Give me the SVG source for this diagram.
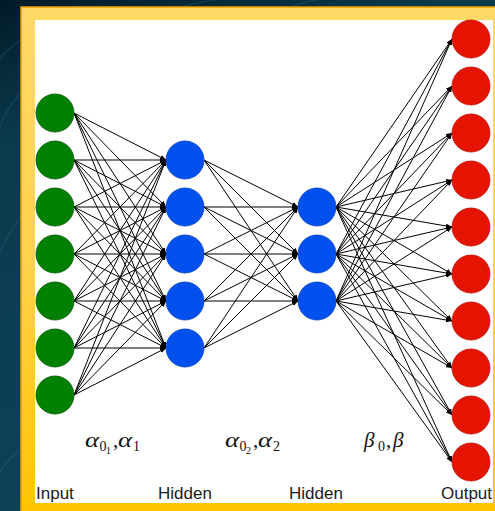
<svg xmlns="http://www.w3.org/2000/svg" width="495" height="511" viewBox="0 0 495 511">
  <defs>
    <linearGradient id="bg" x1="0" y1="0" x2="0.3" y2="1">
      <stop offset="0" stop-color="#021a28"/>
      <stop offset="0.25" stop-color="#0a3a4c"/>
      <stop offset="1" stop-color="#0c4458"/>
    </linearGradient>
    <linearGradient id="frame" x1="0" y1="0" x2="0" y2="1">
      <stop offset="0" stop-color="#ffd966"/>
      <stop offset="0.5" stop-color="#ffd24a"/>
      <stop offset="1" stop-color="#ffc400"/>
    </linearGradient>
    <marker id="arrow" markerWidth="6" markerHeight="5" refX="6" refY="2.5" orient="auto" markerUnits="userSpaceOnUse">
      <path d="M0,0 L6,2.5 L0,5 z" fill="#000"/>
    </marker>
    <style>
      .edge { stroke: #000; stroke-width: 1; fill: none; marker-end: url(#arrow); }
      .in { fill: #008000; stroke: #005700; stroke-width: 0.8; }
      .hid { fill: #0050ef; stroke: #003fc0; stroke-width: 0.8; }
      .out { fill: #e51400; stroke: #c01000; stroke-width: 0.8; }
      .cap { font-family: "Liberation Sans", Arial, sans-serif; font-size: 17px; fill: #1a1a1a; }
      .math { font-family: "Liberation Serif", "Times New Roman", serif; font-size: 21px; fill: #111; }
      .gr { font-style: italic; }
      .sub { font-size: 14px; }
      .subsub { font-size: 10px; }
      .arc { fill: none; stroke: #2a6c80; stroke-opacity: 0.35; stroke-width: 1.2; }
    </style>
  </defs>

  <!-- backdrop -->
  <rect x="0" y="0" width="495" height="511" fill="url(#bg)"/>
  <path class="arc" d="M-10,70 Q20,30 70,18"/>
  <path class="arc" d="M-5,140 Q8,100 30,85"/>
  <path class="arc" d="M-5,260 Q10,230 22,215"/>
  <path class="arc" d="M-5,480 Q10,455 22,448"/>
  <path class="arc" d="M180,7 Q230,-6 260,0"/>
  <path class="arc" d="M290,7 Q320,-4 340,0"/>

  <!-- frame and panel -->
  <rect x="21" y="7" width="480" height="510" fill="url(#frame)"/>
  <rect x="21" y="7" width="480" height="510" fill="none" stroke="#f0a000" stroke-width="1.5"/>
  <rect x="35" y="20" width="458" height="483" fill="#ffffff"/>

  <!-- connectors -->
  <g id="connectors">
    <!-- input -> hidden 1 -->
    <path class="edge" d="M74,113 L166,160"/><path class="edge" d="M74,113 L166,207"/><path class="edge" d="M74,113 L166,254"/><path class="edge" d="M74,113 L166,301"/><path class="edge" d="M74,113 L166,348"/>
    <path class="edge" d="M74,160 L166,160"/><path class="edge" d="M74,160 L166,207"/><path class="edge" d="M74,160 L166,254"/><path class="edge" d="M74,160 L166,301"/><path class="edge" d="M74,160 L166,348"/>
    <path class="edge" d="M74,207 L166,160"/><path class="edge" d="M74,207 L166,207"/><path class="edge" d="M74,207 L166,254"/><path class="edge" d="M74,207 L166,301"/><path class="edge" d="M74,207 L166,348"/>
    <path class="edge" d="M74,254 L166,160"/><path class="edge" d="M74,254 L166,207"/><path class="edge" d="M74,254 L166,254"/><path class="edge" d="M74,254 L166,301"/><path class="edge" d="M74,254 L166,348"/>
    <path class="edge" d="M74,301 L166,160"/><path class="edge" d="M74,301 L166,207"/><path class="edge" d="M74,301 L166,254"/><path class="edge" d="M74,301 L166,301"/><path class="edge" d="M74,301 L166,348"/>
    <path class="edge" d="M74,348 L166,160"/><path class="edge" d="M74,348 L166,207"/><path class="edge" d="M74,348 L166,254"/><path class="edge" d="M74,348 L166,301"/><path class="edge" d="M74,348 L166,348"/>
    <path class="edge" d="M74,395 L166,160"/><path class="edge" d="M74,395 L166,207"/><path class="edge" d="M74,395 L166,254"/><path class="edge" d="M74,395 L166,301"/><path class="edge" d="M74,395 L166,348"/>
    <!-- hidden 1 -> hidden 2 -->
    <path class="edge" d="M204,160 L298,207"/><path class="edge" d="M204,160 L298,254"/><path class="edge" d="M204,160 L298,301"/>
    <path class="edge" d="M204,207 L298,207"/><path class="edge" d="M204,207 L298,254"/><path class="edge" d="M204,207 L298,301"/>
    <path class="edge" d="M204,254 L298,207"/><path class="edge" d="M204,254 L298,254"/><path class="edge" d="M204,254 L298,301"/>
    <path class="edge" d="M204,301 L298,207"/><path class="edge" d="M204,301 L298,254"/><path class="edge" d="M204,301 L298,301"/>
    <path class="edge" d="M204,348 L298,207"/><path class="edge" d="M204,348 L298,254"/><path class="edge" d="M204,348 L298,301"/>
    <!-- hidden 2 -> output -->
    <path class="edge" d="M336,207 L452,39"/><path class="edge" d="M336,207 L452,86"/><path class="edge" d="M336,207 L452,133"/><path class="edge" d="M336,207 L452,180"/><path class="edge" d="M336,207 L452,227"/>
    <path class="edge" d="M336,207 L452,274"/><path class="edge" d="M336,207 L452,321"/><path class="edge" d="M336,207 L452,368"/><path class="edge" d="M336,207 L452,415"/><path class="edge" d="M336,207 L452,462"/>
    <path class="edge" d="M336,254 L452,39"/><path class="edge" d="M336,254 L452,86"/><path class="edge" d="M336,254 L452,133"/><path class="edge" d="M336,254 L452,180"/><path class="edge" d="M336,254 L452,227"/>
    <path class="edge" d="M336,254 L452,274"/><path class="edge" d="M336,254 L452,321"/><path class="edge" d="M336,254 L452,368"/><path class="edge" d="M336,254 L452,415"/><path class="edge" d="M336,254 L452,462"/>
    <path class="edge" d="M336,301 L452,39"/><path class="edge" d="M336,301 L452,86"/><path class="edge" d="M336,301 L452,133"/><path class="edge" d="M336,301 L452,180"/><path class="edge" d="M336,301 L452,227"/>
    <path class="edge" d="M336,301 L452,274"/><path class="edge" d="M336,301 L452,321"/><path class="edge" d="M336,301 L452,368"/><path class="edge" d="M336,301 L452,415"/><path class="edge" d="M336,301 L452,462"/>
  </g>

  <!-- input layer -->
  <g id="input-1"><circle class="in" cx="55" cy="113" r="19"/></g>
  <g id="input-2"><circle class="in" cx="55" cy="160" r="19"/></g>
  <g id="input-3"><circle class="in" cx="55" cy="207" r="19"/></g>
  <g id="input-4"><circle class="in" cx="55" cy="254" r="19"/></g>
  <g id="input-5"><circle class="in" cx="55" cy="301" r="19"/></g>
  <g id="input-6"><circle class="in" cx="55" cy="348" r="19"/></g>
  <g id="input-7"><circle class="in" cx="55" cy="395" r="19"/></g>

  <!-- first hidden layer -->
  <g id="hidden1-1"><circle class="hid" cx="185" cy="160" r="19"/></g>
  <g id="hidden1-2"><circle class="hid" cx="185" cy="207" r="19"/></g>
  <g id="hidden1-3"><circle class="hid" cx="185" cy="254" r="19"/></g>
  <g id="hidden1-4"><circle class="hid" cx="185" cy="301" r="19"/></g>
  <g id="hidden1-5"><circle class="hid" cx="185" cy="348" r="19"/></g>

  <!-- second hidden layer -->
  <g id="hidden2-1"><circle class="hid" cx="317" cy="207" r="19"/></g>
  <g id="hidden2-2"><circle class="hid" cx="317" cy="254" r="19"/></g>
  <g id="hidden2-3"><circle class="hid" cx="317" cy="301" r="19"/></g>

  <!-- output layer -->
  <g id="output-1"><circle class="out" cx="471" cy="39" r="19"/></g>
  <g id="output-2"><circle class="out" cx="471" cy="86" r="19"/></g>
  <g id="output-3"><circle class="out" cx="471" cy="133" r="19"/></g>
  <g id="output-4"><circle class="out" cx="471" cy="180" r="19"/></g>
  <g id="output-5"><circle class="out" cx="471" cy="227" r="19"/></g>
  <g id="output-6"><circle class="out" cx="471" cy="274" r="19"/></g>
  <g id="output-7"><circle class="out" cx="471" cy="321" r="19"/></g>
  <g id="output-8"><circle class="out" cx="471" cy="368" r="19"/></g>
  <g id="output-9"><circle class="out" cx="471" cy="415" r="19"/></g>
  <g id="output-10"><circle class="out" cx="471" cy="462" r="19"/></g>

  <!-- parameter labels -->
  <g id="params" class="math">
    <text class="gr" x="85" y="447" textLength="14" lengthAdjust="spacingAndGlyphs">α</text>
    <text class="sub" x="99.5" y="451">0</text>
    <text class="subsub" x="106" y="454">1</text>
    <text x="113" y="447">,</text>
    <text class="gr" x="118" y="447" textLength="14" lengthAdjust="spacingAndGlyphs">α</text>
    <text class="sub" x="133" y="451">1</text>

    <text class="gr" x="225" y="447" textLength="14" lengthAdjust="spacingAndGlyphs">α</text>
    <text class="sub" x="239.5" y="451">0</text>
    <text class="subsub" x="246" y="454">2</text>
    <text x="253" y="447">,</text>
    <text class="gr" x="258" y="447" textLength="14" lengthAdjust="spacingAndGlyphs">α</text>
    <text class="sub" x="273" y="451">2</text>

    <text class="gr" x="364" y="447">β</text>
    <text class="sub" x="378" y="451">0</text>
    <text x="386" y="447">,</text>
    <text class="gr" x="393" y="447">β</text>
  </g>

  <!-- layer captions -->
  <g id="captions">
    <text class="cap" x="36" y="499">Input</text>
    <text class="cap" x="158" y="499">Hidden</text>
    <text class="cap" x="289" y="499">Hidden</text>
    <text class="cap" x="441" y="499">Output</text>
  </g>
</svg>
